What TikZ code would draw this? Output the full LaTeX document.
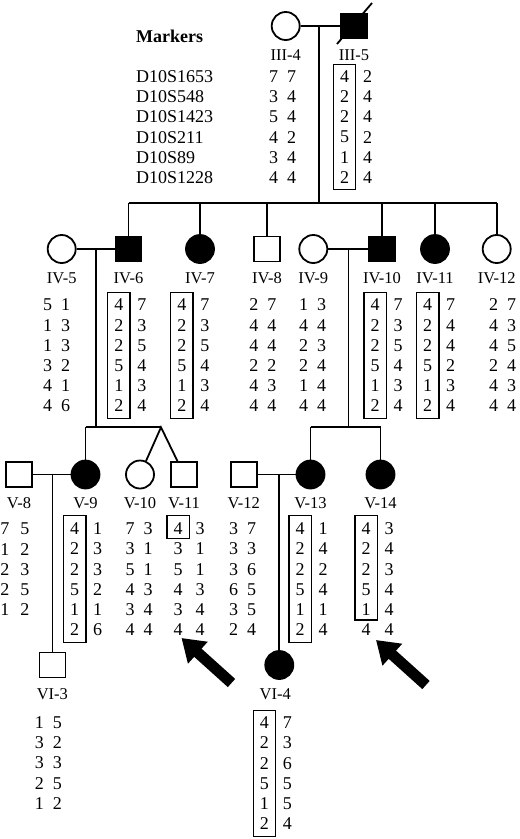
\documentclass[tikz,border=0pt]{standalone}
\usepackage{fontspec}
\setmainfont{Liberation Serif}
\usetikzlibrary{matrix,arrows.meta}
\tikzset{
  pedline/.style={line width=1.8pt},
  hapbox/.style={line width=1.2pt},
  male/.style={draw, rectangle, minimum width=26pt, minimum height=25pt, inner sep=0pt, line width=1.8pt},
  female/.style={draw, circle, minimum size=28pt, inner sep=0pt, line width=1.8pt},
  affected/.style={fill=black},
  tag/.style={font=\fontsize{16.5}{18}\selectfont, inner sep=0pt},
  alleles/.style={matrix of nodes,
    nodes in empty cells,
    ampersand replacement=\&,
    inner sep=0pt,
    row sep=0pt,
    column sep=4pt,
    nodes={anchor=center, inner sep=0pt, minimum width=14pt, minimum height=20.2pt, font=\fontsize{18}{20}\selectfont}},
  haplo/.style={column sep=9pt},
  bigarrow/.style={line width=11pt, -{Triangle[length=22pt,width=28pt]}}
}
\begin{document}
\begin{tikzpicture}[x=1pt, y=-1pt]
  \useasboundingbox (0,0) rectangle (520,839);
  % generation III
  \node[female] (III4) at (285.7,26) {};
  \node[male, affected] (III5) at (354,26) {};
  \draw[pedline] ([shift={(-17,18)}]III5.center) -- ([shift={(18,-23)}]III5.center);
  % generation IV
  \node[female] (IV5) at (61.7,249) {};
  \node[male, affected] (IV6) at (128.5,249) {};
  \node[female, affected] (IV7) at (200,249) {};
  \node[male] (IV8) at (267,249) {};
  \node[female] (IV9) at (313.3,249) {};
  \node[male, affected] (IV10) at (382,249) {};
  \node[female, affected] (IV11) at (435,249) {};
  \node[female] (IV12) at (496.7,249) {};
  % generation V
  \node[male] (V8) at (19,474.5) {};
  \node[female, affected] (V9) at (85.5,474.5) {};
  \node[female] (V10) at (140,474.5) {};
  \node[male] (V11) at (184,474.5) {};
  \node[male] (V12) at (243.7,474.5) {};
  \node[female, affected] (V13) at (310.5,474.5) {};
  \node[female, affected] (V14) at (380.5,474.5) {};
  % generation VI
  \node[male] (VI3) at (52.4,665) {};
  \node[female, affected] (VI4) at (279.3,665) {};
  \foreach \n/\t in {III4/III-4, III5/III-5, IV5/IV-5, IV6/IV-6, IV7/IV-7, IV8/IV-8, IV9/IV-9,
      IV10/IV-10, IV11/IV-11, IV12/IV-12, V8/V-8, V9/V-9, V10/V-10, V11/V-11, V12/V-12,
      V13/V-13, V14/V-14, VI3/VI-3}
    \node[tag] (t\n) at ([yshift=-29pt]\n.center) {\t};
  \node[tag] (tVI4) at ([shift={(-4pt,-29pt)}]VI4.center) {VI-4};

  % lines of descent
  \coordinate (jIII) at (319.3,26);
  \coordinate (sIV) at (319.3,203.3);
  \draw[pedline] (III4) -- (III5);
  \draw[pedline] (jIII) -- (sIV);
  \draw[pedline] (IV6 |- sIV) -- (IV12 |- sIV);
  \foreach \k in {IV6,IV7,IV8,IV10,IV11,IV12}
    \draw[pedline] (\k |- sIV) -- (\k);

  \coordinate (jIV56) at (95.7,249);
  \coordinate (sV1) at (95.7,427.3);
  \coordinate (twin) at (161,427.3);
  \draw[pedline] (IV5) -- (IV6);
  \draw[pedline] (jIV56) -- (sV1);
  \draw[pedline] (V9 |- sV1) -- (twin);
  \draw[pedline] (V9 |- sV1) -- (V9);
  \draw[pedline] (V10) -- (twin) -- (V11);

  \coordinate (jIV910) at (348.5,249);
  \coordinate (sV2) at (348.5,427.3);
  \draw[pedline] (IV9) -- (IV10);
  \draw[pedline] (jIV910) -- (sV2);
  \draw[pedline] (V13 |- sV2) -- (V14 |- sV2);
  \draw[pedline] (V13 |- sV2) -- (V13);
  \draw[pedline] (V14 |- sV2) -- (V14);

  \coordinate (jV89) at (52.4,474.5);
  \coordinate (jV1213) at (279.3,474.5);
  \draw[pedline] (V8) -- (V9);
  \draw[pedline] (jV89) -- (VI3);
  \draw[pedline] (V12) -- (V13);
  \draw[pedline] (jV1213) -- (VI4);

  % markers
  \node[anchor=west, inner sep=0pt, font=\bfseries\fontsize{18}{20}\selectfont] (head) at (136,36) {Markers};
  \matrix (markers) [matrix of nodes, inner sep=0pt, row sep=0pt, anchor=west,
    nodes={anchor=west, inner sep=0pt, minimum height=20.2pt, font=\fontsize{18}{20}\selectfont}] at (136,127)
  {
    D10S1653\\ D10S548\\ D10S1423\\ D10S211\\ D10S89\\ D10S1228\\
  };

  % haplotypes
  \matrix (mIII4) [alleles] at (282.5,127)
  { 7 \& 7\\ 3 \& 4\\ 5 \& 4\\ 4 \& 2\\ 3 \& 4\\ 4 \& 4\\ };
  \matrix (mIII5) [alleles, haplo] at (356,127)
  { 4 \& 2\\ 2 \& 4\\ 2 \& 4\\ 5 \& 2\\ 1 \& 4\\ 2 \& 4\\ };

  \matrix (mIV5) [alleles] at (56.7,355.5)
  { 5 \& 1\\ 1 \& 3\\ 1 \& 3\\ 3 \& 2\\ 4 \& 1\\ 4 \& 6\\ };
  \matrix (mIV6) [alleles, haplo] at (130.3,355.5)
  { 4 \& 7\\ 2 \& 3\\ 2 \& 5\\ 5 \& 4\\ 1 \& 3\\ 2 \& 4\\ };
  \matrix (mIV7) [alleles, haplo] at (193.3,355.5)
  { 4 \& 7\\ 2 \& 3\\ 2 \& 5\\ 5 \& 4\\ 1 \& 3\\ 2 \& 4\\ };
  \matrix (mIV8) [alleles] at (262.8,355.5)
  { 2 \& 7\\ 4 \& 4\\ 4 \& 4\\ 2 \& 2\\ 4 \& 3\\ 4 \& 4\\ };
  \matrix (mIV9) [alleles] at (312.5,355.5)
  { 1 \& 3\\ 4 \& 4\\ 2 \& 3\\ 2 \& 4\\ 1 \& 4\\ 4 \& 4\\ };
  \matrix (mIV10) [alleles, haplo] at (386.7,355.5)
  { 4 \& 7\\ 2 \& 3\\ 2 \& 5\\ 5 \& 4\\ 1 \& 3\\ 2 \& 4\\ };
  \matrix (mIV11) [alleles, haplo] at (439.2,355.5)
  { 4 \& 7\\ 2 \& 4\\ 2 \& 4\\ 5 \& 2\\ 1 \& 3\\ 2 \& 4\\ };
  \matrix (mIV12) [alleles] at (502.5,355.5)
  { 2 \& 7\\ 4 \& 3\\ 4 \& 5\\ 2 \& 4\\ 4 \& 3\\ 4 \& 4\\ };

  \matrix (mV8) [alleles, column sep=6pt] at (15,569.3)
  { 7 \& 5\\ 1 \& 2\\ 2 \& 3\\ 2 \& 5\\ 1 \& 2\\ };
  \matrix (mV9) [alleles, haplo] at (86.2,579.3)
  { 4 \& 1\\ 2 \& 3\\ 2 \& 3\\ 5 \& 2\\ 1 \& 1\\ 2 \& 6\\ };
  \matrix (mV10) [alleles] at (139.2,579.3)
  { 7 \& 3\\ 3 \& 1\\ 5 \& 1\\ 4 \& 3\\ 3 \& 4\\ 4 \& 4\\ };
  \matrix (mV11) [alleles, column sep=8pt] at (189.2,579.3)
  { 4 \& 3\\ 3 \& 1\\ 5 \& 1\\ 4 \& 3\\ 3 \& 4\\ 4 \& 4\\ };
  \matrix (mV12) [alleles] at (242.5,579.3)
  { 3 \& 7\\ 3 \& 3\\ 3 \& 6\\ 6 \& 5\\ 3 \& 5\\ 2 \& 4\\ };
  \matrix (mV13) [alleles, haplo] at (311.7,579.3)
  { 4 \& 1\\ 2 \& 4\\ 2 \& 2\\ 5 \& 4\\ 1 \& 1\\ 2 \& 4\\ };
  \matrix (mV14) [alleles, haplo] at (377.7,579.3)
  { 4 \& 3\\ 2 \& 4\\ 2 \& 3\\ 5 \& 4\\ 1 \& 4\\ 4 \& 4\\ };

  \matrix (mVI3) [alleles] at (48.3,763)
  { 1 \& 5\\ 3 \& 2\\ 3 \& 3\\ 2 \& 5\\ 1 \& 2\\ };
  \matrix (mVI4) [alleles, haplo] at (275.8,773.3)
  { 4 \& 7\\ 2 \& 3\\ 2 \& 6\\ 5 \& 5\\ 1 \& 5\\ 2 \& 4\\ };

  % boxed disease haplotype
  \draw[hapbox] ([shift={(-4,-2)}]mIII5-1-1.north west) rectangle ([shift={(4,2)}]mIII5-6-1.south east);
  \draw[hapbox] ([shift={(-4,-2)}]mIV6-1-1.north west) rectangle ([shift={(4,2)}]mIV6-6-1.south east);
  \draw[hapbox] ([shift={(-4,-2)}]mIV7-1-1.north west) rectangle ([shift={(4,2)}]mIV7-6-1.south east);
  \draw[hapbox] ([shift={(-4,-2)}]mIV10-1-1.north west) rectangle ([shift={(4,2)}]mIV10-6-1.south east);
  \draw[hapbox] ([shift={(-4,-2)}]mIV11-1-1.north west) rectangle ([shift={(4,2)}]mIV11-6-1.south east);
  \draw[hapbox] ([shift={(-4,-3)}]mV9-1-1.north west) rectangle ([shift={(4,2)}]mV9-6-1.south east);
  \draw[hapbox] ([shift={(-4,-3)}]mV11-1-1.north west) rectangle ([shift={(4,-1)}]mV11-1-1.south east);
  \draw[hapbox] ([shift={(-4,-3)}]mV13-1-1.north west) rectangle ([shift={(4,2)}]mV13-6-1.south east);
  \draw[hapbox] ([shift={(-4,-3)}]mV14-1-1.north west) rectangle ([shift={(4,0)}]mV14-5-1.south east);
  \draw[hapbox] ([shift={(-4,-2)}]mVI4-1-1.north west) rectangle ([shift={(4,2)}]mVI4-6-1.south east);

  % recombinants
  \coordinate (a1) at (231.5,683);
  \coordinate (h1) at (181.5,638);
  \coordinate (a2) at (426,685);
  \coordinate (h2) at (376,640);
  \draw[bigarrow] (a1) -- (h1);
  \draw[bigarrow] (a2) -- (h2);
\end{tikzpicture}
\end{document}
